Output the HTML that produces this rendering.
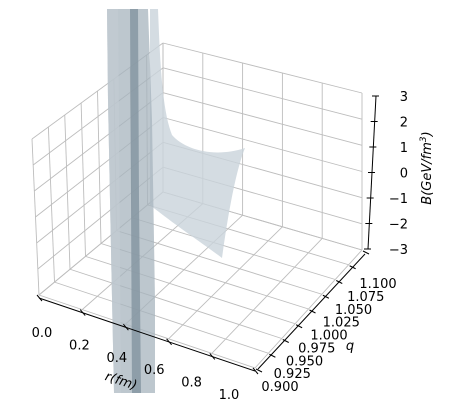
<!DOCTYPE html>
<html><head><meta charset="utf-8"><style>
html,body{margin:0;padding:0;background:#fff;}
svg{display:block;font-family:"DejaVu Sans","Liberation Sans",sans-serif;}
</style></head><body>
<svg id="chart" width="450" height="411" viewBox="0 0 450 411" xmlns="http://www.w3.org/2000/svg">
<g id="grid"></g>
<g id="surface">
  <path d="M150,9 L158,9 C160,60 162,110 172,135 C185,150 215,158 245,148 C238,165 230,200 222,258 C205,245 175,225 150,205 Z" fill="#c9d3db" fill-opacity="0.8"/>
  <path d="M107,9 L148,9 L152,120 L155,300 L155,393 L114,393 L111,250 L108,100 Z" fill="#a7b4be" fill-opacity="0.75"/>
  <path d="M107,9 L118,9 L119,120 L121,393 L114,393 L111,250 L108,100 Z" fill="#c3ccd3" fill-opacity="0.7"/>
  <path d="M130,9 L138,9 L139,200 L141,393 L132,393 L131,200 Z" fill="#8696a2" fill-opacity="0.85"/>
</g>
<g id="axes"></g>
<text x="121" y="385" font-size="13" font-style="italic" text-anchor="middle" transform="rotate(18 121 381)">r(fm)</text>
<text x="350" y="350" font-size="13" font-style="italic" text-anchor="middle">q</text>
<text x="431" y="168" font-size="13" font-style="italic" text-anchor="middle" transform="rotate(-90 431 168)">B(GeV/fm<tspan font-size="9" dy="-5">3</tspan><tspan dy="5">)</tspan></text>
<script>
const rTicks=[0,0.2,0.4,0.6,0.8,1.0];
const rLabels=["0.0","0.2","0.4","0.6","0.8","1.0"];
const qTicks=[0.9,0.925,0.95,0.975,1.0,1.025,1.05,1.075,1.1];
const qLabels=["0.900","0.925","0.950","0.975","1.000","1.025","1.050","1.075","1.100"];
const zTicks=[-3,-2,-1,0,1,2,3];
const zLabels=["\u22123","\u22122","\u22121","0","1","2","3"];
const NS="http://www.w3.org/2000/svg";
const FL={L:[39,295],F:[255,368],B:[163,192],R:[362,250]};
const TP={L:[32,139],F:[252,206],B:[163,43],R:[362,93]};
function bil(C,u,v){
  const x=(1-u)*(1-v)*C.L[0]+u*(1-v)*C.F[0]+(1-u)*v*C.B[0]+u*v*C.R[0];
  const y=(1-u)*(1-v)*C.L[1]+u*(1-v)*C.F[1]+(1-u)*v*C.B[1]+u*v*C.R[1];
  return [x,y];}
function P(r,q,z){const u=r,v=(q-0.9)/0.2,w=(z+3)/6;
  const a=bil(FL,u,v),b=bil(TP,u,v);return [a[0]+(b[0]-a[0])*w,a[1]+(b[1]-a[1])*w];}
function line(g,a,b,col,wd,name){const l=document.createElementNS(NS,'line');
  l.setAttribute('x1',a[0]);l.setAttribute('y1',a[1]);l.setAttribute('x2',b[0]);l.setAttribute('y2',b[1]);
  l.setAttribute('stroke',col);l.setAttribute('stroke-width',wd);
  
  
  g.appendChild(l);}
function text(g,x,y,s,anchor,name){const t=document.createElementNS(NS,'text');
  t.setAttribute('x',x);t.setAttribute('y',y);t.setAttribute('font-size','13');t.setAttribute('text-anchor',anchor);t.setAttribute('fill','#000');
  t.textContent=s;
  
  
  g.appendChild(t);}
const grid=document.getElementById('grid');const gc='#bdbdbd';
rTicks.forEach(r=>line(grid,P(r,0.9,-3),P(r,1.1,-3),gc,0.9,'floor-gridline-r'));
qTicks.forEach(q=>line(grid,P(0,q,-3),P(1,q,-3),gc,0.9,'floor-gridline-q'));
qTicks.forEach(q=>line(grid,P(0,q,-3),P(0,q,3),gc,0.9,'left-wall-gridline-q'));
zTicks.forEach(z=>line(grid,P(0,0.9,z),P(0,1.1,z),gc,0.9,'left-wall-gridline-z'));
rTicks.forEach(r=>line(grid,P(r,1.1,-3),P(r,1.1,3),gc,0.9,'right-wall-gridline-r'));
zTicks.forEach(z=>line(grid,P(0,1.1,z),P(1,1.1,z),gc,0.9,'right-wall-gridline-z'));
const ax=document.getElementById('axes');
const ro=[0,3];
line(ax,[FL.L[0]+ro[0],FL.L[1]+ro[1]],[FL.F[0]+ro[0],FL.F[1]+ro[1]],'#000',1,'x-axis-line');
rTicks.forEach((r,i)=>{const p=P(r,0.9,-3);const a=[p[0]+ro[0],p[1]+ro[1]];
  line(ax,[a[0]-2,a[1]-3],[a[0]+3,a[1]+3],'#000',1,'x-tick');
  text(ax,42+187*r,337+62*r,rLabels[i],'middle','x-tick-label');});
line(ax,[258,369],[365,254],'#000',1,'y-axis-line');
qTicks.forEach((q,i)=>{const p=P(1,q,-3);const a=[p[0]+4,p[1]+2];const v=(q-0.9)/0.2;
  line(ax,[a[0]-3,a[1]-1],[a[0]+3,a[1]+2],'#000',1,'y-tick');
  text(ax,280+98*v,391-103*v,qLabels[i],'middle','y-tick-label');});
line(ax,[376,96],[368,249],'#000',1,'z-axis-line');
zTicks.forEach((z,i)=>{const y=249+(96-249)*(z+3)/6;const x=368+8*(z+3)/6;
  line(ax,[x-4,y],[x+3,y],'#000',1,'z-tick');
  text(ax,408,y+5,zLabels[i],'end','z-tick-label');});
</script>
</svg>
</body></html>
